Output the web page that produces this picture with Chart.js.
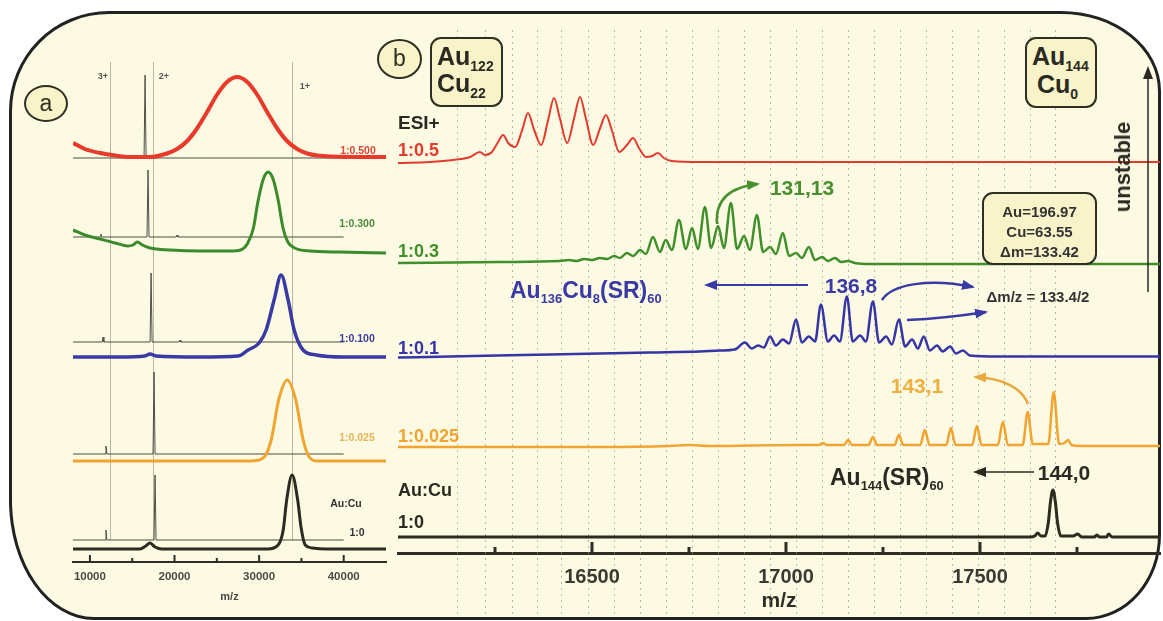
<!DOCTYPE html>
<html>
<head>
<meta charset="utf-8">
<title>Au:Cu mass spectra</title>
<script src="https://cdn.jsdelivr.net/npm/chart.js@4.4.1/dist/chart.umd.min.js"></script>
<style>
html,body{margin:0;padding:0;background:#ffffff;}
#wrap{position:relative;width:1163px;height:621px;overflow:hidden;font-family:"Liberation Sans",Arial,sans-serif;color:#2a2a22;}
#frame{position:absolute;left:9px;top:11px;width:1152px;height:609px;box-sizing:border-box;border:3px solid #222;border-radius:100px 100px 75px 85px / 100px 80px 85px 120px;background:#fcfae3;}
canvas{position:absolute;top:0;}
#ca{left:0;}
#cb{left:380px;}
.t{position:absolute;white-space:nowrap;font-weight:bold;line-height:1;}
.c{transform:translate(-50%,-50%);}
.l{transform:translateY(-50%);}
.sa{font-size:10.5px;}
.box{position:absolute;box-sizing:border-box;border:2px solid #2e2e22;border-radius:11px;background:#f8f3c9;}
.circ{position:absolute;box-sizing:border-box;border:2px solid #2e2e22;border-radius:50%;background:#f8f3c9;font-size:23px;text-align:center;color:#2e2e22;}
sub{font-size:0.56em;vertical-align:-0.45em;line-height:0;}
#arrows{position:absolute;left:0;top:0;}
</style>
</head>
<body>
<div id="wrap">
  <div id="frame"></div>
  <canvas id="ca" width="400" height="621"></canvas>
  <canvas id="cb" width="783" height="621"></canvas>

  <!-- panel a annotations -->
  <div class="circ" style="left:24px;top:85px;width:44px;height:37px;line-height:32px;">a</div>
  <div class="t c sa" style="left:103px;top:76px;color:#555;font-size:9px;">3+</div>
  <div class="t c sa" style="left:164px;top:76px;color:#555;font-size:9px;">2+</div>
  <div class="t c sa" style="left:305px;top:86px;color:#555;font-size:9px;">1+</div>
  <div class="t c sa" style="left:358px;top:150px;color:#d8473a;">1:0.500</div>
  <div class="t c sa" style="left:357px;top:223px;color:#4b8c3c;">1:0.300</div>
  <div class="t c sa" style="left:357px;top:338px;color:#3d3d9c;">1:0.100</div>
  <div class="t c sa" style="left:357px;top:437px;color:#e8b25a;">1:0.025</div>
  <div class="t c sa" style="left:346px;top:503px;color:#333;">Au:Cu</div>
  <div class="t c sa" style="left:357px;top:532px;color:#333;">1:0</div>

  <!-- panel b annotations -->
  <div class="circ" style="left:377px;top:39px;width:45px;height:40px;line-height:35px;">b</div>
  <div class="box" style="left:430px;top:37px;width:73px;height:70px;">
    <div class="t" style="left:5px;top:5px;font-size:25px;">Au<sub>122</sub></div>
    <div class="t" style="left:5px;top:32px;font-size:25px;">Cu<sub>22</sub></div>
  </div>
  <div class="box" style="left:1025px;top:37px;width:72px;height:71px;">
    <div class="t" style="left:5px;top:5px;font-size:25px;">Au<sub>144</sub></div>
    <div class="t" style="left:10px;top:33px;font-size:25px;">Cu<sub>0</sub></div>
  </div>
  <div class="box" style="left:982px;top:192px;width:115px;height:73px;">
    <div class="t" style="left:0;width:111px;top:8px;text-align:center;font-size:15px;line-height:20px;color:#333;">Au=196.97<br>Cu=63.55<br>&Delta;m=133.42</div>
  </div>
  <div class="t c" style="left:1123px;top:167px;font-size:22px;transform:translate(-50%,-50%) rotate(-90deg);color:#2a2a22;">unstable</div>

  <div class="t l" style="left:398px;top:122px;font-size:19px;">ESI+</div>
  <div class="t l" style="left:398px;top:150px;font-size:18px;color:#e23b2e;">1:0.5</div>
  <div class="t l" style="left:398px;top:251px;font-size:18px;color:#3f8f2a;">1:0.3</div>
  <div class="t l" style="left:398px;top:348px;font-size:18px;color:#3535a5;">1:0.1</div>
  <div class="t l" style="left:398px;top:436px;font-size:18px;color:#f2a431;">1:0.025</div>
  <div class="t l" style="left:398px;top:490px;font-size:18px;">Au:Cu</div>
  <div class="t l" style="left:398px;top:522px;font-size:18px;">1:0</div>

  <div class="t c" style="left:802px;top:187px;font-size:21px;color:#4a9030;">131,13</div>
  <div class="t l" style="left:510px;top:290px;font-size:23px;color:#3a3aa5;">Au<sub>136</sub>Cu<sub>8</sub>(SR)<sub>60</sub></div>
  <div class="t c" style="left:851px;top:285px;font-size:21px;color:#3a3aa5;">136,8</div>
  <div class="t c" style="left:1038px;top:296px;font-size:15px;color:#333;">&Delta;m/z = 133.4/2</div>
  <div class="t c" style="left:917px;top:385px;font-size:21px;color:#f0b040;">143,1</div>
  <div class="t l" style="left:830px;top:477px;font-size:23px;color:#2a2a22;">Au<sub>144</sub>(SR)<sub>60</sub></div>
  <div class="t c" style="left:1064px;top:472px;font-size:21px;color:#2a2a22;">144,0</div>

  <svg id="arrows" width="1163" height="621">
    <defs>
      <marker id="mg" markerUnits="userSpaceOnUse" markerWidth="13" markerHeight="10" refX="11" refY="5" orient="auto"><path d="M0,0 L13,5 L0,10 z" fill="#4a9030"/></marker>
      <marker id="mb" markerUnits="userSpaceOnUse" markerWidth="13" markerHeight="10" refX="11" refY="5" orient="auto"><path d="M0,0 L13,5 L0,10 z" fill="#3a3aa5"/></marker>
      <marker id="mo" markerUnits="userSpaceOnUse" markerWidth="13" markerHeight="10" refX="11" refY="5" orient="auto"><path d="M0,0 L13,5 L0,10 z" fill="#eaa840"/></marker>
      <marker id="mk" markerUnits="userSpaceOnUse" markerWidth="13" markerHeight="10" refX="11" refY="5" orient="auto"><path d="M0,0 L13,5 L0,10 z" fill="#2a2a22"/></marker>
    </defs>
    <path d="M717,224 C715,200 730,187 758,184" stroke="#4a9030" stroke-width="2.5" fill="none" marker-end="url(#mg)"/>
    <path d="M808,285 L706,285" stroke="#3a3aa5" stroke-width="2" fill="none" marker-end="url(#mb)"/>
    <path d="M882,300 C892,284 930,278 973,287" stroke="#3a3aa5" stroke-width="2.5" fill="none" marker-end="url(#mb)"/>
    <path d="M907,320 C930,319 960,316 986,312" stroke="#3a3aa5" stroke-width="2.5" fill="none" marker-end="url(#mb)"/>
    <path d="M1028,404 C1022,388 1002,378 975,377" stroke="#eaa840" stroke-width="2.5" fill="none" marker-end="url(#mo)"/>
    <path d="M1034,472 L975,472" stroke="#2a2a22" stroke-width="1.5" fill="none" marker-end="url(#mk)"/>
    <path d="M1148,292 L1148,68" stroke="#2a2a22" stroke-width="1.5" fill="none" marker-end="url(#mk)"/>
  </svg>
</div>

<script>
// ================= DATA =================
// Panel a (m/z 8000 - 45000)
const A_TICKS = [10000, 20000, 30000, 40000];
const A_MINOR = [15000, 25000, 35000];
const CHARGE_MZ = [12400, 17470, 33900];          // 3+, 2+, 1+ guide lines

// [m/z, relative intensity] pairs
const RED_A = [[8000,15],[9400,9],[11200,5],[13000,2.5],[14700,1],[17100,1],[19100,4.5],[20300,9],[21500,17],[22700,30],[23850,46],[25000,63],[26200,76],[27400,81],[28600,76],[29800,63],[30950,46],[32100,30],[33300,17],[34500,9],[35700,4.5],[36900,2.4],[38400,1.5],[45000,1]];
const GREEN_A = [[8000,7],[9400,2],[11200,-2],[13000,-6],[14500,-9],[15100,-8],[15600,-5],[16200,-8],[17100,-11],[19500,-13],[23000,-14],[26600,-14],[27800,-13],[28600,-7],[29300,8],[29900,37],[30500,58],[31070,65],[31650,58],[32250,37],[32800,10],[33400,-5],[34200,-11],[36000,-14],[39600,-15],[45000,-16]];
const BLUE_A = [[8000,-15],[13500,-15],[16500,-14],[17100,-12],[17800,-14],[23000,-15],[27500,-14],[28700,-8],[30000,-1],[30830,12],[31770,42],[32600,67],[33430,42],[34140,12],[35200,-8],[36740,-13],[40000,-15],[45000,-15]];
const ORANGE_A = [[8000,-7],[25000,-7],[29000,-7],[30480,-4],[31430,14],[32310,54],[33320,74],[34330,54],[35210,14],[35920,-3],[36870,-7],[45000,-7]];
const BLACK_A = [[8000,-9],[15900,-9],[16600,-6],[17100,-3],[17700,-7],[18500,-9],[31000,-9],[32250,-5],[32850,10],[33260,40],[33910,65],[34560,40],[34970,12],[35450,-5],[36280,-8],[38000,-9],[45000,-9]];
// thin reference traces with the sharp 2+ line
const RED_A_REF = [[8000,0],[16400,0],[16520,83],[16640,0],[45000,0]];
const GREEN_A_REF = [[8000,0],[11200,0],[11300,3],[11400,0],[16750,0],[16870,67],[16990,0],[20200,0],[20300,2],[20400,0],[40000,0]];
const BLUE_A_REF = [[8000,0],[11450,0],[11550,5],[11650,0],[17110,0],[17230,69],[17350,0],[20550,0],[20650,2],[20750,0],[40000,0]];
const ORANGE_A_REF = [[8000,0],[11800,0],[11900,8],[12000,0],[17460,0],[17580,82],[17700,0],[40000,0]];
const BLACK_A_REF = [[8000,0],[11800,0],[11900,10],[12000,0],[17580,0],[17700,65],[17820,0],[40000,0]];

// Panel b (m/z 16000 - 17965)
const B_TICKS = [16500, 17000, 17500];
const B_MINOR = [16250, 16750, 17250, 17750];
const GRID_MZ = [16152,16225,16294,16358,16420,16490,16557,16624,16691,16758,16824,16892,16959,17026,17093,17160,17227,17294,17361,17428,17494,17561,17628,17694];

const RED_B = [[16000,-1],[16082,0],[16142,2],[16186,5],[16211,10],[16224,7],[16242,10],[16258,20],[16271,27],[16284,19],[16302,15],[16320,32],[16335,49],[16351,32],[16369,17],[16387,42],[16402,64],[16417,44],[16436,19],[16454,44],[16469,65],[16484,44],[16503,17],[16521,34],[16536,47],[16551,32],[16570,10],[16590,17],[16606,24],[16621,14],[16639,5],[16655,6],[16670,9],[16685,4],[16706,1],[16778,0],[17965,0]];
const GREEN_B = [[16000,1],[16263,2],[16417,3],[16440,4],[16460,3],[16480,5],[16500,4],[16520,6],[16539,5],[16557,8],[16572,6],[16590,11],[16606,8],[16624,14],[16639,10],[16657,27],[16675,12],[16690,24],[16706,14],[16724,44],[16742,15],[16758,36],[16773,15],[16791,57],[16807,16],[16825,38],[16840,16],[16858,61],[16874,15],[16892,28],[16907,14],[16925,49],[16941,12],[16959,17],[16974,10],[16992,31],[17008,8],[17026,11],[17041,6],[17059,17],[17075,4],[17093,7],[17108,3],[17126,6],[17142,2],[17160,3],[17178,1],[17216,0],[17965,0]];
const BLUE_B = [[16000,-1],[16134,0],[16392,2],[16649,4],[16778,5],[16830,6],[16868,7],[16894,14],[16912,8],[16928,11],[16943,9],[16959,20],[16974,11],[16992,17],[17008,13],[17026,37],[17041,14],[17059,20],[17075,15],[17090,52],[17108,15],[17124,21],[17139,15],[17157,60],[17172,15],[17191,21],[17206,15],[17224,55],[17240,14],[17258,20],[17273,12],[17291,37],[17307,10],[17325,17],[17340,8],[17355,20],[17371,6],[17389,11],[17404,5],[17423,10],[17438,3],[17456,6],[17474,1],[17551,0],[17965,0]];
const ORANGE_B = [[16000,-1],[16521,-1],[16700,0],[16753,1],[16800,0],[17036,1],[17085,1],[17095,3],[17105,1],[17150,1],[17160,6],[17170,1],[17213,1],[17224,9],[17235,1],[17280,1],[17291,11],[17302,1],[17346,1],[17358,16],[17370,1],[17413,1],[17425,18],[17437,1],[17480,1],[17492,20],[17504,1],[17546,1],[17559,24],[17572,1],[17610,1],[17623,34],[17636,2],[17676,2],[17690,54],[17704,2],[17718,3],[17727,6],[17736,1],[17760,0],[17965,0]];
const BLACK_B = [[16000,0],[17630,0],[17641,1],[17649,4],[17657,1],[17668,1],[17676,14],[17682,36],[17688,47],[17694,36],[17700,14],[17708,1],[17740,1],[17752,3],[17762,0],[17795,0],[17801,2],[17808,0],[17826,0],[17832,3],[17840,0],[17965,0]];

// ================= LAYOUT (stacking offsets) =================
const OFF_A = {red:404, green:325, blue:220, orange:108, black:22};
const OFF_B = {red:391, green:289, blue:196.5, orange:107, black:16};

const FONT = '"Liberation Sans", Arial, sans-serif';
Chart.defaults.font.family = FONT;

const pts = (arr, off) => arr.map(([x, h]) => ({x: x, y: h + off}));
const thick = (arr, off, color, w) => ({data: pts(arr, off), borderColor: color, borderWidth: w, cubicInterpolationMode: 'monotone', pointRadius: 0, fill: false, order: 1});
const thin = (arr, off) => ({data: pts(arr, off), borderColor: '#4f4f44', borderWidth: 1, tension: 0, pointRadius: 0, fill: false, order: 2});

function tickMarks(id, major, minor, majLen, minLen, width) {
  return {
    id: id,
    afterDraw(chart) {
      const ctx = chart.ctx, bottom = chart.chartArea.bottom, x = chart.scales.x;
      ctx.save();
      ctx.strokeStyle = '#2e2e26';
      ctx.lineWidth = width;
      const draw = (v, len) => {
        const px = x.getPixelForValue(v);
        ctx.beginPath(); ctx.moveTo(px, bottom); ctx.lineTo(px, bottom - len); ctx.stroke();
      };
      major.forEach(v => draw(v, majLen));
      minor.forEach(v => draw(v, minLen));
      ctx.restore();
    }
  };
}

const chargeLines = {
  id: 'chargeLines',
  beforeDatasetsDraw(chart) {
    const ctx = chart.ctx, x = chart.scales.x, y = chart.scales.y;
    ctx.save();
    ctx.strokeStyle = '#b9b6a2';
    ctx.lineWidth = 1;
    CHARGE_MZ.forEach(v => {
      const px = Math.round(x.getPixelForValue(v)) + 0.5;
      ctx.beginPath(); ctx.moveTo(px, chart.chartArea.top); ctx.lineTo(px, y.getPixelForValue(OFF_A.black)); ctx.stroke();
    });
    ctx.restore();
  }
};

const dottedGrid = {
  id: 'dottedGrid',
  beforeDatasetsDraw(chart) {
    const ctx = chart.ctx, x = chart.scales.x;
    ctx.save();
    ctx.strokeStyle = 'rgba(140,140,120,0.6)';
    ctx.lineWidth = 1;
    ctx.setLineDash([2, 4]);
    GRID_MZ.forEach(v => {
      const px = Math.round(x.getPixelForValue(v)) + 0.5;
      ctx.beginPath(); ctx.moveTo(px, chart.chartArea.top); ctx.lineTo(px, chart.height - 6); ctx.stroke();
    });
    ctx.restore();
  }
};

// ================= PANEL A =================
new Chart(document.getElementById('ca'), {
  type: 'line',
  data: {
    datasets: [
      thin(RED_A_REF, OFF_A.red), thick(RED_A, OFF_A.red, '#e8392b', 4),
      thin(GREEN_A_REF, OFF_A.green), thick(GREEN_A, OFF_A.green, '#3b8a2b', 3),
      thin(BLUE_A_REF, OFF_A.blue), thick(BLUE_A, OFF_A.blue, '#3a3aa5', 3.5),
      thin(ORANGE_A_REF, OFF_A.orange), thick(ORANGE_A, OFF_A.orange, '#f0a530', 3),
      thin(BLACK_A_REF, OFF_A.black), thick(BLACK_A, OFF_A.black, '#2b2b20', 3)
    ]
  },
  options: {
    responsive: false, animation: false, devicePixelRatio: 1,
    layout: {padding: {left: 73, right: 14, top: 62, bottom: 0}},
    plugins: {legend: {display: false}, tooltip: {enabled: false}},
    scales: {
      x: {
        type: 'linear', min: 8000, max: 45000,
        afterBuildTicks: s => { s.ticks = A_TICKS.map(v => ({value: v})); },
        afterFit: s => { s.height = 59; },
        grid: {display: false},
        border: {display: true, width: 2, color: '#2e2e26'},
        ticks: {color: '#4a4a40', font: {size: 11.5, weight: 'bold'}, padding: 0, maxRotation: 0, autoSkip: false, callback: v => String(v)},
        title: {display: true, text: 'm/z', color: '#4a4a40', font: {size: 11, weight: 'bold'}, padding: {top: 0, bottom: 17}}
      },
      y: {display: false, min: 0, max: 500}
    }
  },
  plugins: [chargeLines, tickMarks('ticksA', A_TICKS, A_MINOR, 7, 4, 2)]
});

// ================= PANEL B =================
new Chart(document.getElementById('cb'), {
  type: 'line',
  data: {
    datasets: [
      thick(RED_B, OFF_B.red, '#e23b2e', 2),
      thick(GREEN_B, OFF_B.green, '#3f8f2a', 2.5),
      thick(BLUE_B, OFF_B.blue, '#3535a5', 2.5),
      thick(ORANGE_B, OFF_B.orange, '#f2a431', 2.5),
      thick(BLACK_B, OFF_B.black, '#2b2b1e', 3)
    ]
  },
  options: {
    responsive: false, animation: false, devicePixelRatio: 1,
    layout: {padding: {left: 18, right: 3, top: 30, bottom: 0}},
    plugins: {legend: {display: false}, tooltip: {enabled: false}},
    scales: {
      x: {
        type: 'linear', min: 16000, max: 17964,
        afterBuildTicks: s => { s.ticks = B_TICKS.map(v => ({value: v})); },
        afterFit: s => { s.height = 68; },
        grid: {display: false},
        border: {display: true, width: 3, color: '#2e2e26'},
        ticks: {color: '#3a3a32', font: {size: 20, weight: 'bold'}, padding: 4, maxRotation: 0, autoSkip: false, callback: v => String(v)},
        title: {display: true, text: 'm/z', color: '#2e2e26', font: {size: 21, weight: 'bold'}, padding: {top: 0, bottom: 7}}
      },
      y: {display: false, min: 0, max: 523}
    }
  },
  plugins: [dottedGrid, tickMarks('ticksB', B_TICKS, B_MINOR, 11, 6, 3)]
});
</script>
</body>
</html>
